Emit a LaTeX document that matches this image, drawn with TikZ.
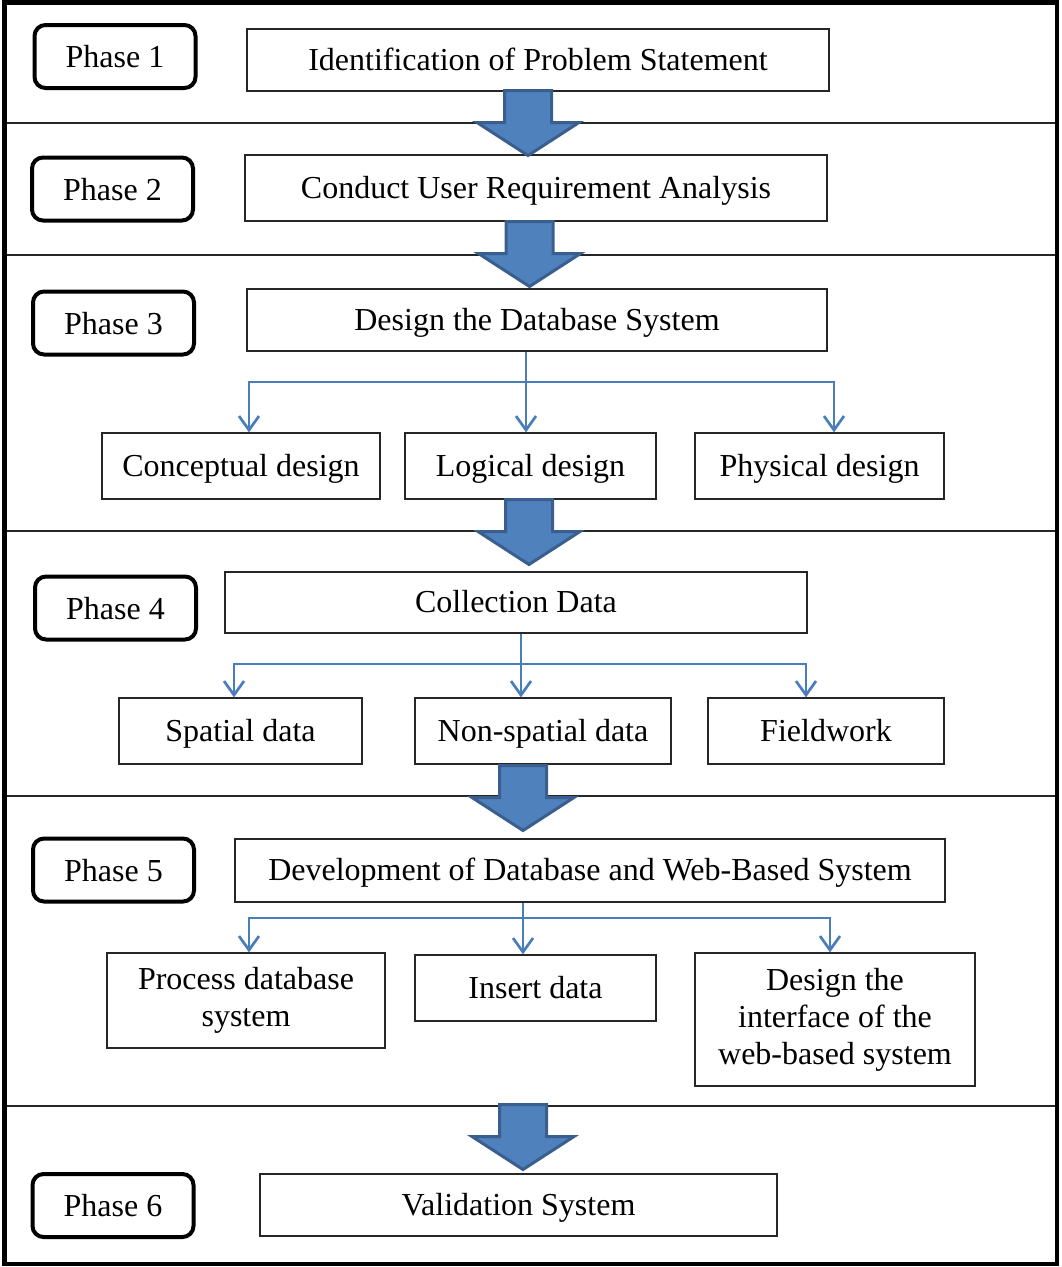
\documentclass[tikz,border=0pt]{standalone}
\usepackage{fontspec}
\setmainfont{Liberation Serif}
\usetikzlibrary{arrows.meta,calc}
\definecolor{connblue}{HTML}{4A7EBB}
\definecolor{arrowfill}{HTML}{4F81BD}
\definecolor{arrowline}{HTML}{3A5F8E}
\begin{document}
\begin{tikzpicture}[x=1pt,y=-1pt,
  every node/.style={font=\fontsize{32}{37}\selectfont, inner sep=0pt, align=center},
  oneline/.style={text height=26pt, text depth=6pt},
  phasebox/.style={draw, line width=4pt, rounded corners=11pt, minimum width=161pt, minimum height=63pt, text height=28pt, text depth=6pt},
  mainbox/.style={draw=black!85, line width=1.3pt},
  conn/.style={draw=connblue, line width=2.7pt, -{Straight Barb[length=14pt,width=20pt]}},
  plainconn/.style={draw=connblue, line width=2.7pt},
  sepline/.style={draw=black!85, line width=2pt},
  blockarrow/.pic={
    \path[fill=arrowfill, draw=arrowline, line width=3pt]
      (-23.5,0) -- (23.5,0) -- (23.5,32) -- (51,32) -- (0,65) -- (-51,32) -- (-23.5,32) -- cycle;
  }]
\useasboundingbox (0,0) rectangle (1062,1267);

% separators
\draw[sepline] (4,123) -- (1058,123);
\draw[sepline] (4,255) -- (1058,255);
\draw[sepline] (4,531) -- (1058,531);
\draw[sepline] (4,796) -- (1058,796);
\draw[sepline] (4,1106) -- (1058,1106);
% outer frame
\draw[line width=4.5pt] (4.5,2.5) rectangle (1057,1264);

% phase boxes
\node[phasebox] (p1) at (115,56.5) {Phase 1};
\node[phasebox] (p2) at (112.5,189) {Phase 2};
\node[phasebox] (p3) at (113.5,323) {Phase 3};
\node[phasebox] (p4) at (115.5,608) {Phase 4};
\node[phasebox] (p5) at (113.5,870) {Phase 5};
\node[phasebox] (p6) at (113,1205.5) {Phase 6};

% main boxes
\node[mainbox, oneline, minimum width=582pt, minimum height=62pt] (m1) at (538,60) {Identification of Problem Statement};
\node[mainbox, oneline, minimum width=582pt, minimum height=66pt] (m2) at (536,188) {Conduct User Requirement Analysis};
\node[mainbox, oneline, minimum width=580pt, minimum height=62pt] (m3) at (537,320) {Design the Database System};
\node[mainbox, oneline, minimum width=278pt, minimum height=66pt] (s31) at (241,466) {Conceptual design};
\node[mainbox, oneline, minimum width=251pt, minimum height=66pt] (s32) at (530.5,466) {Logical design};
\node[mainbox, oneline, minimum width=249pt, minimum height=66pt] (s33) at (819.5,466) {Physical design};
\node[mainbox, oneline, minimum width=582pt, minimum height=61pt] (m4) at (516,602.5) {Collection Data};
\node[mainbox, oneline, minimum width=243pt, minimum height=66pt] (s41) at (240.5,731) {Spatial data};
\node[mainbox, oneline, minimum width=256pt, minimum height=66pt] (s42) at (543,731) {Non-spatial data};
\node[mainbox, oneline, minimum width=236pt, minimum height=66pt] (s43) at (826,731) {Fieldwork};
\node[mainbox, oneline, minimum width=710pt, minimum height=63pt] (m5) at (590,870.5) {Development of Database and Web-Based System};
\node[mainbox, minimum width=278pt, minimum height=95pt] (s51) at (246,1000.5) {Process database\\system};
\node[mainbox, oneline, minimum width=241pt, minimum height=66pt] (s52) at (535.5,988) {Insert data};
\node[mainbox, minimum width=280pt, minimum height=133pt] (s53) at (835,1019.5) {Design the\\interface of the\\web-based system};
\node[mainbox, oneline, minimum width=517pt, minimum height=62pt] (m6) at (518.5,1205) {Validation System};

% branch connectors phase 3
\coordinate (b3) at (526,382);
\draw[plainconn] (m3.south -| b3) -- (b3);
\draw[conn] (b3) -- (b3 |- s32.north);
\draw[conn] (b3) -| ([xshift=8pt]s31.north);
\draw[conn] (b3) -| ([xshift=14.5pt]s33.north);

% branch connectors phase 4
\coordinate (b4) at (521,664);
\draw[plainconn] (m4.south -| b4) -- (b4);
\draw[conn] (b4) -- (b4 |- s42.north);
\draw[conn] (b4) -| ([xshift=-6.5pt]s41.north);
\draw[conn] (b4) -| ([xshift=-20pt]s43.north);

% branch connectors phase 5
\coordinate (b5) at (523,918);
\draw[plainconn] (m5.south -| b5) -- (b5);
\draw[conn] (b5) -- (b5 |- s52.north);
\draw[conn] (b5) -| ([xshift=3pt]s51.north);
\draw[conn] (b5) -| ([xshift=-5pt]s53.north);

% block arrows between phases
\pic at (528,90.5) {blockarrow};
\pic at (529.5,221.5) {blockarrow};
\pic at (529,499.5) {blockarrow};
\pic at (523,765.5) {blockarrow};
\pic at (523,1104.5) {blockarrow};
\end{tikzpicture}
\end{document}
